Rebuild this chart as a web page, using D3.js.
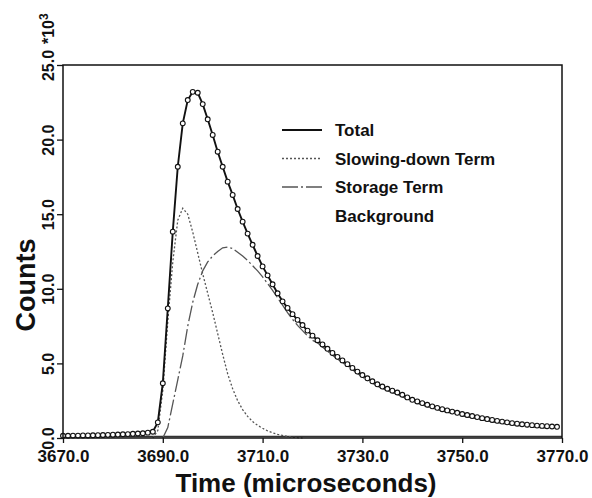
<!DOCTYPE html>
<html>
<head>
<meta charset="utf-8">
<script src="https://cdn.jsdelivr.net/npm/d3@7"></script>
<style>
  body { margin: 0; background: #fff; }
  text { font-family: "Liberation Sans", Arial, sans-serif; font-weight: bold; fill: #111; }
</style>
</head>
<body>
<div id="chart"></div>
<script>
// time of the first sample of each series (microseconds), one sample per microsecond
const totalStart = 3670;
const slowingStart = 3688;
const storageStart = 3690;

// counts (x 10^3)
const totalCounts = [
  0.15, 0.15, 0.16, 0.16, 0.17, 0.17, 0.18, 0.19, 0.20, 0.21,   // 3670
  0.22, 0.23, 0.25, 0.26, 0.28, 0.30, 0.32, 0.36, 0.42, 1.05,   // 3680
  3.67, 8.69, 13.83, 18.18, 21.09, 22.65, 23.20, 23.14, 22.38, 21.36, // 3690
  20.31, 19.19, 18.18, 17.18, 16.29, 15.35, 14.50, 13.70, 12.95, 12.20, // 3700
  11.50, 10.90, 10.30, 9.70, 9.16, 8.72, 8.30, 7.92, 7.57, 7.20, // 3710
  6.86, 6.55, 6.27, 5.98, 5.70, 5.44, 5.20, 4.95, 4.70, 4.45,   // 3720
  4.22, 4.00, 3.80, 3.60, 3.45, 3.30, 3.17, 3.05, 2.90, 2.72,   // 3730
  2.56, 2.45, 2.34, 2.23, 2.12, 2.02, 1.93, 1.85, 1.77, 1.69,   // 3740
  1.61, 1.54, 1.47, 1.40, 1.33, 1.27, 1.21, 1.15, 1.10, 1.05,   // 3750
  1.00, 0.96, 0.92, 0.89, 0.86, 0.83, 0.81, 0.79, 0.77, 0.75    // 3760
];

const slowingTerm = [
  0.00, 0.50, 3.20, 7.80, 11.80, 14.60, 15.40, 15.00, 13.80, 12.40, // 3688
  11.00, 9.70, 8.40, 7.00, 5.60, 4.30, 3.30, 2.50, 1.90, 1.45,     // 3698
  1.10, 0.85, 0.65, 0.48, 0.35, 0.25, 0.17, 0.10, 0.05, 0.02, 0.00  // 3708
];

const storageTerm = [
  0.00, 0.70, 2.30, 3.90, 5.50, 7.50, 9.10, 10.30, 11.20, 11.80,  // 3690
  12.20, 12.50, 12.75, 12.80, 12.70, 12.45, 12.20, 11.90, 11.55, 11.20, // 3700
  10.80, 10.35, 9.90, 9.40, 8.90, 8.40, 7.95, 7.55, 7.20, 6.85,   // 3710
  6.55, 6.38, 6.10, 5.82, 5.55, 5.29, 5.06, 4.82, 4.57, 4.32,     // 3720
  4.09, 3.87, 3.67, 3.47, 3.32, 3.17, 3.04, 2.92, 2.77, 2.59,     // 3730
  2.44, 2.33, 2.22, 2.11, 2.00, 1.90, 1.81, 1.73, 1.65, 1.57,     // 3740
  1.49, 1.42, 1.35, 1.28, 1.21, 1.15, 1.09, 1.03, 0.98, 0.93,     // 3750
  0.88, 0.84, 0.80, 0.77, 0.74, 0.71, 0.69, 0.67, 0.65, 0.63      // 3760
];

const backgroundLevel = [0.10, 0.10];
const backgroundTimes = [3670, 3770];

const xTicks = [3670, 3690, 3710, 3730, 3750, 3770];
const yTicks = [0, 5, 10, 15, 20, 25];
const legendLabels = ["Total", "Slowing-down Term", "Storage Term", "Background"];

const outerWidth = 592;
const outerHeight = 498;
const margin = { left: 63, top: 65, right: 30, bottom: 60 };
const innerWidth = outerWidth - margin.left - margin.right;
const innerHeight = outerHeight - margin.top - margin.bottom;

const x = d3.scaleLinear().domain([3670, 3770]).range([0, innerWidth]);
const y = d3.scaleLinear().domain([0, 25]).range([innerHeight, 0]);

const toPoints = (values, start) => values.map((v, i) => ({ t: start + i, v: v }));
const totalPts = toPoints(totalCounts, totalStart);
const slowingPts = toPoints(slowingTerm, slowingStart);
const storagePts = toPoints(storageTerm, storageStart);
const bgPts = backgroundTimes.map((t, i) => ({ t: t, v: backgroundLevel[i] }));

const line = d3.line().x(d => x(d.t)).y(d => y(d.v));

const svg = d3.select("#chart").append("svg")
    .attr("width", outerWidth)
    .attr("height", outerHeight);

const g = svg.append("g")
    .attr("transform", "translate(" + margin.left + "," + margin.top + ")");

// curves
g.append("path").datum(bgPts)
    .attr("d", line).attr("fill", "none")
    .attr("stroke", "#333").attr("stroke-width", 1.4);

g.append("path").datum(slowingPts)
    .attr("d", line).attr("fill", "none")
    .attr("stroke", "#555").attr("stroke-width", 1.3)
    .attr("stroke-dasharray", "2,2");

g.append("path").datum(storagePts)
    .attr("d", line).attr("fill", "none")
    .attr("stroke", "#555").attr("stroke-width", 1.3)
    .attr("stroke-dasharray", "16,3,2,3");

g.append("path").datum(totalPts)
    .attr("d", line).attr("fill", "none")
    .attr("stroke", "#111").attr("stroke-width", 1.9);

g.selectAll("circle.pt")
    .data(totalPts)
  .enter().append("circle")
    .attr("class", "pt")
    .attr("cx", d => x(d.t))
    .attr("cy", d => y(d.v))
    .attr("r", 2.4)
    .attr("fill", "#fff")
    .attr("stroke", "#111")
    .attr("stroke-width", 1.1);

// frame
g.append("rect")
    .attr("width", innerWidth).attr("height", innerHeight)
    .attr("fill", "none").attr("stroke", "#111").attr("stroke-width", 1.5);

// axes
const xAxis = g.append("g")
    .attr("transform", "translate(0," + innerHeight + ")")
    .call(d3.axisBottom(x).tickValues(xTicks).tickFormat(d3.format(".1f")).tickSize(5).tickPadding(7));

const yAxis = g.append("g")
    .call(d3.axisLeft(y).tickValues(yTicks).tickFormat(d3.format(".1f")).tickSize(6).tickPadding(0));

[xAxis, yAxis].forEach(a => {
    a.select(".domain").remove();
    a.selectAll("line").attr("stroke", "#111").attr("stroke-width", 1.3);
    a.selectAll("text").attr("fill", "#111");
});
xAxis.selectAll("text").style("font-size", "17px");

// rotated y tick labels
yAxis.selectAll("text")
    .style("font-size", "16px")
    .attr("x", null).attr("dy", null)
    .attr("text-anchor", "middle")
    .attr("transform", "translate(-9,0) rotate(-90)");

yAxis.append("text")
    .attr("transform", "translate(-9," + (y(25) - 21) + ") rotate(-90)")
    .attr("text-anchor", "start")
    .style("font-size", "16px")
    .text("*10")
  .append("tspan")
    .attr("dy", -6)
    .style("font-size", "12px")
    .text("3");

// axis titles
svg.append("text")
    .attr("x", 306)
    .attr("y", 492)
    .attr("text-anchor", "middle")
    .style("font-size", "26px")
    .text("Time (microseconds)");

svg.append("text")
    .attr("transform", "translate(35,285) rotate(-90)")
    .attr("text-anchor", "middle")
    .style("font-size", "27px")
    .text("Counts");

// legend
const legend = svg.append("g").attr("transform", "translate(282,130)");
const legendDash = [null, "2,2", "16,3,2,3", null];

legendLabels.forEach((label, i) => {
    const row = legend.append("g").attr("transform", "translate(0," + (i * 28.5) + ")");
    if (i < 3) {
        row.append("line")
            .attr("x1", 0).attr("x2", 40)
            .attr("stroke", i === 0 ? "#111" : "#555")
            .attr("stroke-width", i === 0 ? 1.8 : 1.3)
            .attr("stroke-dasharray", legendDash[i]);
    }
    row.append("text")
        .attr("x", 53).attr("y", 6)
        .style("font-size", "17px")
        .text(label);
});
</script>
</body>
</html>
